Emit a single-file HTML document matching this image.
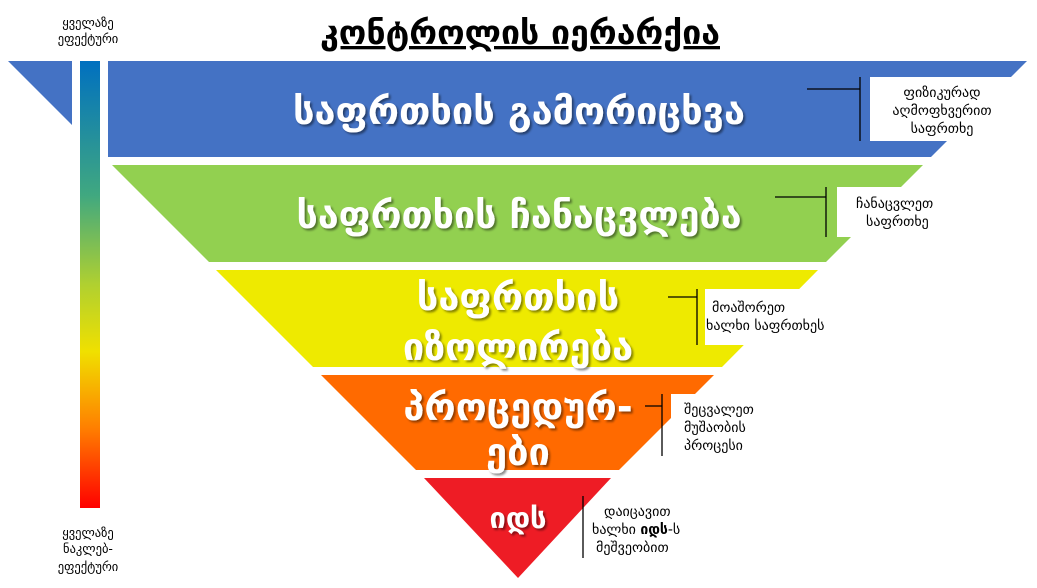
<!DOCTYPE html>
<html><head><meta charset="utf-8"><style>
body{margin:0;background:#fff;width:1037px;height:584px;overflow:hidden;font-family:"DejaVu Sans","Liberation Sans",sans-serif}
</style></head><body>
<svg width="1037" height="584" viewBox="0 0 1037 584" xmlns="http://www.w3.org/2000/svg" style="font-family:'DejaVu Sans','Liberation Sans',sans-serif">
<defs>
<linearGradient id="g" x1="0" y1="0" x2="0" y2="1">
<stop offset="0" stop-color="#0070c0"/><stop offset="0.3" stop-color="#40a880"/><stop offset="0.5" stop-color="#b0d030"/><stop offset="0.65" stop-color="#f0e000"/><stop offset="0.82" stop-color="#ff8000"/><stop offset="1" stop-color="#ff0000"/>
</linearGradient>
<filter id="s"><feDropShadow dx="2" dy="2" stdDeviation="1" flood-color="#000" flood-opacity="0.45"/></filter>
</defs>
<text x="520" y="44" text-anchor="middle" font-size="33" font-weight="bold" text-decoration="underline" fill="#000" textLength="400" lengthAdjust="spacingAndGlyphs">კონტროლის იერარქია</text>
<text x="88" y="27" text-anchor="middle" font-size="12.5">ყველაზე</text>
<text x="88" y="43" text-anchor="middle" font-size="12.5">ეფექტური</text>
<text x="88" y="537" text-anchor="middle" font-size="12.5">ყველაზე</text>
<text x="88" y="553" text-anchor="middle" font-size="12.5">ნაკლებ-</text>
<text x="88" y="571" text-anchor="middle" font-size="12.5">ეფექტური</text>
<polygon points="8,61 1027,61 931,157 104,157" fill="#4472c4"/>
<polygon points="112,165 923,165 826,262 209,262" fill="#92d050"/>
<polygon points="216,270 818,270 722,367 313,367" fill="#eeea00"/>
<polygon points="321,375 714,375 619,470 416,470" fill="#ff6a00"/>
<polygon points="424,478 611,478 518,578" fill="#ee1c25"/>
<rect x="72" y="61" width="36" height="97" fill="#fff"/>
<rect x="80" y="61" width="20" height="447" fill="url(#g)"/>
<rect x="870" y="77" width="167" height="64" fill="#fff"/>
<rect x="837" y="187" width="200" height="50" fill="#fff"/>
<rect x="705" y="289" width="200" height="56" fill="#fff"/>
<rect x="671" y="394" width="200" height="62" fill="#fff"/>
<g stroke="#000" stroke-width="1.3">
<line x1="860" y1="77" x2="860" y2="141"/><line x1="807" y1="89" x2="860" y2="89"/>
<line x1="826" y1="187" x2="826" y2="237"/><line x1="775" y1="197" x2="826" y2="197"/>
<line x1="697" y1="289" x2="697" y2="345"/><line x1="668" y1="297" x2="697" y2="297"/>
<line x1="662" y1="394" x2="662" y2="456"/><line x1="645" y1="406" x2="662" y2="406"/>
<line x1="583" y1="496" x2="583" y2="558"/>
</g>
<g fill="#fff" font-size="38" text-anchor="middle" filter="url(#s)" font-weight="bold">
<text x="519" y="124" textLength="452" lengthAdjust="spacingAndGlyphs">საფრთხის გამორიცხვა</text>
<text x="519" y="228" textLength="445" lengthAdjust="spacingAndGlyphs">საფრთხის ჩანაცვლება</text>
<text x="518" y="310">საფრთხის</text>
<text x="518" y="360">იზოლირება</text>
<text x="518" y="420">პროცედურ-</text>
<text x="518" y="465">ები</text>
<text x="518" y="528" font-size="29">იდს</text>
</g>
<g font-size="14" fill="#000" text-anchor="middle">
<text x="942" y="97">ფიზიკურად</text>
<text x="942" y="115">აღმოფხვერით</text>
<text x="942" y="133">საფრთხე</text>
</g>
<g font-size="14" fill="#000">
<text x="856" y="208">ჩანაცვლეთ</text>
<text x="866" y="226">საფრთხე</text>
<text x="712" y="312">მოაშორეთ</text>
<text x="706" y="330">ხალხი საფრთხეს</text>
<text x="684" y="414">შეცვალეთ</text>
<text x="684" y="432">მუშაობის</text>
<text x="684" y="450">პროცესი</text>
<text x="604" y="516">დაიცავით</text>
<text x="592" y="534">ხალხი <tspan font-weight="bold">იდს</tspan>-ს</text>
<text x="596" y="552">მეშვეობით</text>
</g>
</svg>
</body></html>
